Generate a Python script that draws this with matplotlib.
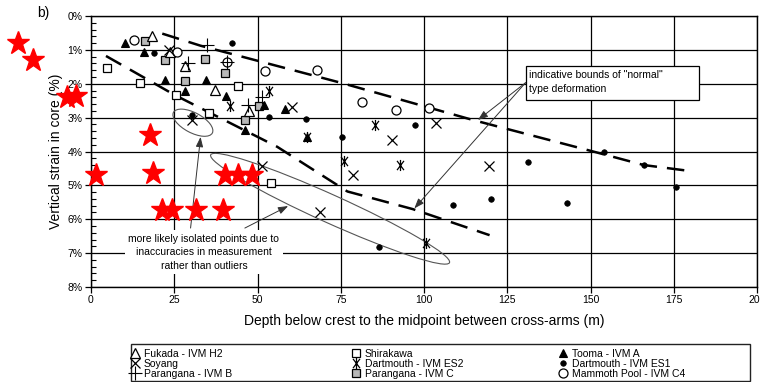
import matplotlib
matplotlib.use("Agg")
import matplotlib.pyplot as plt
from matplotlib.path import Path
from matplotlib.patches import Ellipse, Rectangle
from matplotlib.lines import Line2D
import matplotlib.transforms as mtransforms

plt.rcParams['font.family'] = ['Liberation Sans', 'DejaVu Sans']

# ---------------- data ----------------
fukada_x = [18.2, 23.6, 28.1, 37.3, 47.3]
fukada_y = [0.59, 1.07, 1.49, 2.17, 2.81]

shirakawa_x = [4.7, 14.6, 25.6, 35.4, 44.2, 54.2]
shirakawa_y = [1.54, 1.98, 2.32, 2.86, 2.07, 4.93]

tooma_x = [10.3, 15.8, 22.3, 28.3, 34.4, 40.5, 46.1, 52.1, 58.3, 64.8]
tooma_y = [0.79, 1.07, 1.90, 2.22, 1.90, 2.36, 3.38, 2.62, 2.75, 3.56]

soyang_x = [23.3, 30.3, 51.4, 60.4, 68.8, 78.8, 90.3, 103.6, 119.4]
soyang_y = [1.00, 3.07, 4.43, 2.68, 5.78, 4.69, 3.66, 3.16, 4.43]

dart_es2_x = [41.7, 53.6, 64.8, 76.0, 85.2, 92.9, 100.6]
dart_es2_y = [2.66, 2.20, 3.56, 4.28, 3.23, 4.40, 6.71]

dart_es1_x = [18.9, 30.4, 42.2, 53.4, 64.5, 75.5, 86.5, 97.4, 108.6, 120.0,
              131.2, 142.8, 154.1, 166.1, 175.6]
dart_es1_y = [1.10, 2.92, 0.79, 2.97, 3.04, 3.56, 6.81, 3.23, 5.58, 5.39,
              4.31, 5.51, 4.00, 4.40, 5.04]

parB_x = [29.1, 34.9, 40.7, 47.0, 51.4]
parB_y = [1.39, 0.85, 1.37, 2.62, 2.38]

parC_x = [16.1, 22.3, 28.3, 34.1, 40.3, 46.2, 50.6]
parC_y = [0.73, 1.29, 1.93, 1.26, 1.69, 3.07, 2.66]

mammoth_x = [13.0, 25.9, 40.7, 52.2, 68.0, 81.5, 91.6, 101.6]
mammoth_y = [0.71, 1.05, 1.37, 1.62, 1.58, 2.53, 2.77, 2.73]

star_x = [-21.9, -17.3, -7.3, -4.5, 17.7, 1.5, 18.6, 40.2, 44.0, 48.3,
          21.3, 24.3, 31.5, 39.5]
star_y = [0.81, 1.30, 2.38, 2.36, 3.52, 4.68, 4.64, 4.70, 4.70, 4.70,
          5.73, 5.73, 5.73, 5.73]

upper_x = [21.4, 33.0, 75.0, 114.7, 150.8, 166.0, 179.4]
upper_y = [0.52, 0.88, 1.97, 3.07, 4.00, 4.40, 4.57]

lower_x = [4.5, 25.1, 55.9, 77.0, 96.6, 119.7]
lower_y = [1.18, 2.33, 3.86, 5.18, 5.70, 6.47]

x_ticks = [0, 25, 50, 75, 100, 125, 150, 175, 200]
y_ticks = [0, 1, 2, 3, 4, 5, 6, 7, 8]
y_tick_labels = ['0%', '1%', '2%', '3%', '4%', '5%', '6%', '7%', '8%']

# ---------------- figure ----------------
W, H = 760, 382
fig = plt.figure(figsize=(W / 100, H / 100), dpi=100)
ax = fig.add_axes([91 / W, 1 - 287 / H, (757 - 91) / W, (287 - 16) / H])
ax.set_xlim(0, 200)
ax.set_ylim(8, 0)

ax.set_xticks(x_ticks)
ax.set_yticks(y_ticks)
ax.set_yticklabels(y_tick_labels)
ax.set_yticks([v / 5 for v in range(0, 41)], minor=True)
ax.tick_params(axis='both', which='major', labelsize=7.5, length=4, width=0.9,
               direction='out', pad=2)
ax.tick_params(axis='y', which='minor', length=3.5, width=0.8, direction='in')
ax.grid(True, which='major', color='black', linewidth=0.9, zorder=0)
ax.set_axisbelow(True)
for s in ax.spines.values():
    s.set_linewidth(1.0)
    s.set_color('black')

ax.set_xlabel('Depth below crest to the midpoint between cross-arms (m)',
              fontsize=10, labelpad=6)
ax.set_ylabel('Vertical strain in core (%)', fontsize=10, labelpad=3)
fig.text(37 / W, 1 - 13 / H, 'b)', fontsize=10, va='center', ha='left')

# asterisk marker (X with vertical bar)
ast = Path([(-0.75, -1), (0.75, 1), (-0.75, 1), (0.75, -1), (0, -1.2), (0, 1.2)],
           [Path.MOVETO, Path.LINETO, Path.MOVETO, Path.LINETO, Path.MOVETO, Path.LINETO])

series = [
    ('Fukada - IVM H2', fukada_x, fukada_y, dict(marker='^', ms=6.5, mfc='white', mec='black', mew=0.9)),
    ('Soyang', soyang_x, soyang_y, dict(marker='x', ms=7, mec='black', mew=0.9)),
    ('Parangana - IVM B', parB_x, parB_y, dict(marker='+', ms=10, mec='black', mew=0.8)),
    ('Shirakawa', shirakawa_x, shirakawa_y, dict(marker='s', ms=6, mfc='white', mec='black', mew=0.9)),
    ('Dartmouth - IVM ES2', dart_es2_x, dart_es2_y, dict(marker=ast, ms=8, mec='black', mew=0.9)),
    ('Parangana - IVM C', parC_x, parC_y, dict(marker='s', ms=6, mfc='#b8b8b8', mec='black', mew=0.9)),
    ('Tooma - IVM A', tooma_x, tooma_y, dict(marker='^', ms=6, mfc='black', mec='black', mew=0.8)),
    ('Dartmouth - IVM ES1', dart_es1_x, dart_es1_y, dict(marker='o', ms=4, mfc='black', mec='black', mew=0.5)),
    ('Mammoth Pool - IVM C4', mammoth_x, mammoth_y, dict(marker='o', ms=6.5, mfc='white', mec='black', mew=0.9)),
]
draw_order = [3, 5, 0, 6, 8, 1, 4, 2, 7]
handles = []
for i in draw_order:
    name, xs, ys, st = series[i]
    ax.plot(xs, ys, linestyle='none', zorder=4, clip_on=False, **st)
for name, xs, ys, st in series:
    handles.append(Line2D([], [], linestyle='none', label=name, **st))

# bounds of normal deformation
ax.plot(upper_x, upper_y, color='black', lw=1.8, dashes=(7, 4), zorder=3)
ax.plot(lower_x, lower_y, color='black', lw=1.8, dashes=(7, 4), zorder=3)

# ellipses (sizes in inches, centre in data coords)
def ell(cx, cy, w_px, h_px, ang):
    tr = fig.dpi_scale_trans + mtransforms.ScaledTranslation(cx, cy, ax.transData)
    e = Ellipse((0, 0), w_px / 100, h_px / 100, angle=ang, transform=tr,
                fill=False, edgecolor='#555555', lw=0.8, zorder=3, clip_on=False)
    ax.add_artist(e)

ell(30.6, 3.15, 44, 20, -28)
ell(71.8, 5.69, 262, 28, -24.3)

# annotation box "indicative bounds"
ax.add_patch(Rectangle((130.5, 1.47), 52.0, 1.01, facecolor='white', edgecolor='black',
                       lw=0.9, zorder=5))
ax.text(131.5, 1.58, 'indicative bounds of "normal"\ntype deformation', fontsize=7.5,
        ha='left', va='top', linespacing=1.5, zorder=6)
arrow_kw = dict(arrowstyle='-|>,head_length=0.6,head_width=0.22', color='#333333', lw=0.7,
                shrinkA=0, shrinkB=0)
ax.annotate('', xy=(116.2, 3.07), xytext=(130.5, 1.97), arrowprops=arrow_kw, zorder=5)
ax.annotate('', xy=(97.1, 5.68), xytext=(130.5, 1.97), arrowprops=arrow_kw, zorder=5)

ax.text(33.9, 6.97, 'more likely isolated points due to\ninaccuracies in measurement\nrather than outliers',
        fontsize=7.5, ha='center', va='center', linespacing=1.45, zorder=6,
        bbox=dict(boxstyle='square,pad=0.35', facecolor='white', edgecolor='none'))
ax.annotate('', xy=(32.9, 3.57), xytext=(29.9, 6.26), arrowprops=arrow_kw, zorder=5)
ax.annotate('', xy=(59.2, 5.61), xytext=(46.2, 6.26), arrowprops=arrow_kw, zorder=5)

# red stars
ax.plot(star_x, star_y, linestyle='none', marker='*', ms=17, mfc='red', mec='red',
        zorder=8, clip_on=False)

# legend (three columns) + frame
col_x = [130, 351, 558]
for c in range(3):
    fig.legend(handles=handles[3 * c:3 * c + 3], loc='upper left',
               bbox_to_anchor=(col_x[c] / W, 1 - 349 / H), frameon=False,
               fontsize=7.5, handlelength=1.0, handletextpad=0.3, labelspacing=0.0,
               borderpad=0, borderaxespad=0)
fig.patches.append(Rectangle((131 / W, 1 - 381 / H), (750 - 131) / W, (381 - 344) / H,
                             transform=fig.transFigure, fill=False, edgecolor='#222222',
                             lw=1.0))

fig.savefig('out.png', dpi=100)
